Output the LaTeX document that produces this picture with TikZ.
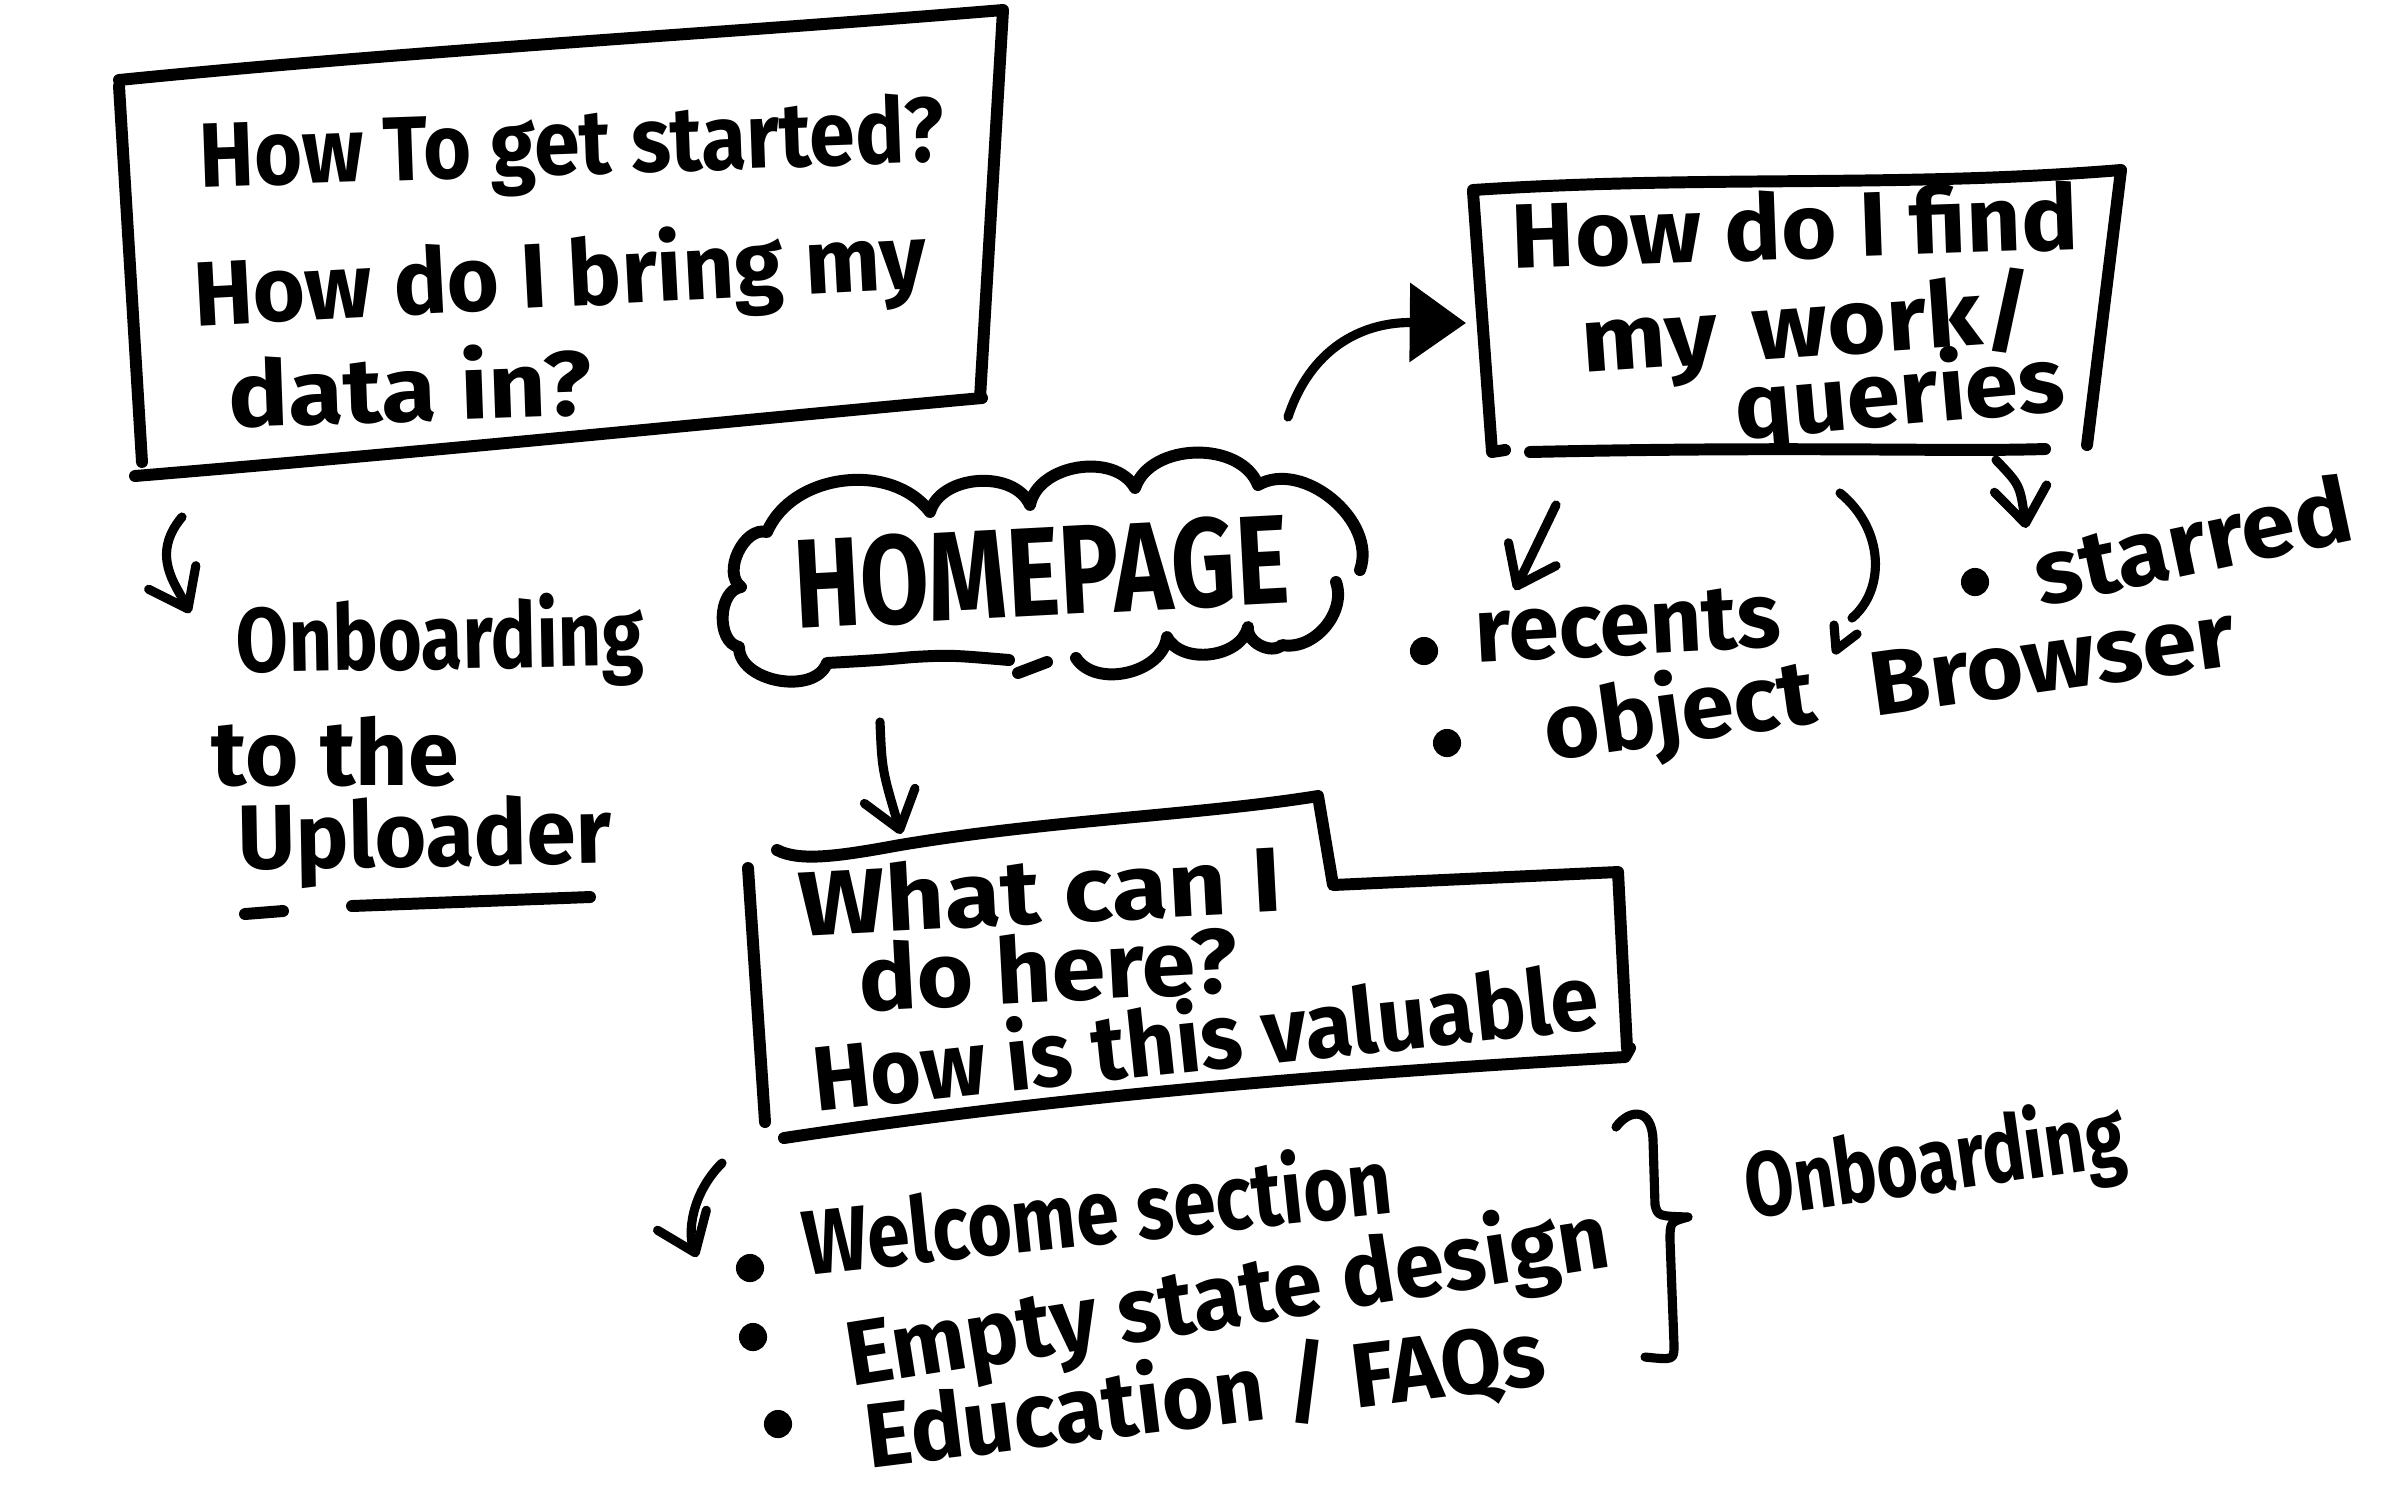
\documentclass[tikz,border=0pt]{standalone}
\usepackage{fontspec}
\setmainfont{Fira Sans}
\usetikzlibrary{arrows.meta}
\begin{document}
\begin{tikzpicture}[x=0.01cm,y=-0.01cm,
  pen/.style={line width=3.4pt, line cap=round, line join=round},
  thinpen/.style={line width=2.6pt, line cap=round, line join=round},
  barb/.style={-{Straight Barb[round,length=10pt,width=15pt]}},
  hand/.style={font=\bfseries\fontsize{26}{30}\selectfont, transform shape, inner sep=0pt},
  big/.style={font=\bfseries\fontsize{36}{40}\selectfont, transform shape, inner sep=0pt},
  dot/.style={circle, fill=black, minimum size=8pt, inner sep=0pt}]
\path[use as bounding box, fill=white] (0,0) rectangle (2401,1487);

% ---------- box: getting started ----------
\draw[pen] (119,80) .. controls (420,50) and (700,35) .. (1003,10) -- (980,398);
\draw[pen] (119,86) -- (142,462);
\draw[pen] (135,476) .. controls (450,450) and (760,418) .. (982,398);
\node[hand, rotate=2, xscale=0.9] (q1a) at (572,150) {How To get started?};
\node[hand, rotate=3, xscale=0.98] (q1b) at (560,280) {How do I bring my};
\node[hand, rotate=2, xscale=1.1] (q1c) at (410,385) {data in?};

% ---------- box: finding work ----------
\draw[pen] (1473,190) .. controls (1700,175) and (1900,188) .. (2121,170) -- (2087,445);
\draw[pen] (1473,192) -- (1492,452) -- (1505,450);
\draw[pen] (1530,452) .. controls (1800,446) and (1950,452) .. (2045,449);
\node[hand, rotate=2, xscale=1.04] (q2a) at (1795,225) {How do I find};
\node[hand, rotate=4, xscale=1.1] (q2b) at (1808,330) {my\hspace{0.35em}work/};
\node[hand, rotate=5, xscale=1.05] (q2c) at (1900,398) {queries};

% ---------- cloud ----------
\draw[pen] (1009,660) .. controls (950,655) .. (913,657) .. controls (880,660) .. (827,663)
  to[bend left=80] (739,647)
  to[bend left=80] (741,587)
  to[bend left=80] (767,532)
  to[bend left=60] (930,512)
  to[bend left=70] (1030,505)
  to[bend left=70] (1135,488)
  to[bend left=70] (1258,485)
  to[bend left=70] (1360,570);
\draw[pen] (1336,582) to[bend left=60] (1282,645)
  to[bend left=70] (1248,627)
  to[bend left=70] (1167,637)
  to[bend left=70] (1076,658);
\draw[pen] (1018,673) -- (1047,662);
\node[big, rotate=3, xscale=0.79] (home) at (1041,572) {HOMEPAGE};

% ---------- box: value ----------
\draw[pen] (777,850) .. controls (800,862) and (840,856) .. (900,845)
  .. controls (1050,820) and (1200,815) .. (1318,796) -- (1333,885) -- (1618,872) -- (1627,1048);
\draw[pen] (784,1138) .. controls (1100,1090) and (1400,1070) .. (1625,1057) -- (1630,1048);
\draw[pen] (748,868) -- (765,1122);
\node[hand, rotate=3, xscale=1.12] (q3a) at (1040,890) {What can I};
\node[hand, rotate=3, xscale=1.06] (q3b) at (1048,968) {do here?};
\node[hand, rotate=6, xscale=0.95] (q3c) at (1205,1034) {How is this valuable};

% ---------- connectors ----------
\coordinate (c1s) at (1288,417);
\coordinate (c1e) at (1466,323);
\draw[thinpen, -{Triangle[length=16pt,width=22pt]}] (c1s) .. controls (1310,350) and (1360,322) .. (c1e);

\coordinate (c2s) at (880,722);
\coordinate (c2e) at (901,834);
\draw[thinpen, barb] (c2s) .. controls (882,770) .. (c2e);

\coordinate (c3s) at (182,517);
\coordinate (c3e) at (190,613);
\draw[thinpen, barb] (c3s) .. controls (150,555) and (176,585) .. (c3e);

\coordinate (c4s) at (1556,505);
\coordinate (c4e) at (1515,590);
\draw[thinpen, barb] (c4s) -- (c4e);

\coordinate (c5s) at (1996,460);
\coordinate (c5e) at (2026,528);
\draw[thinpen, barb] (c5s) .. controls (2020,485) .. (c5e);

\coordinate (c6s) at (722,1163);
\coordinate (c6e) at (697,1257);
\draw[thinpen, barb] (c6s) .. controls (690,1195) and (688,1235) .. (c6e);

% ---------- left notes ----------
\node[hand, rotate=1, xscale=0.83] (ob1) at (440,642) {Onboarding};
\node[hand, xscale=1.0] (ob2) at (335,752) {to the};
\node[hand, rotate=1, xscale=0.97] (ob3) at (425,842) {Uploader};
\draw[pen] (245,914) -- (283,911);
\draw[pen] (352,906) -- (590,897);

% ---------- right notes ----------
\node[dot] (b1) at (1424,651) {};
\node[hand, rotate=3, xscale=0.99] (rec) at (1628,625) {recents};
\node[dot] (b2) at (1447,743) {};
\node[hand, rotate=8, xscale=1.04] (obj) at (1680,715) {object};
\node[hand, rotate=8, xscale=1.07] (brw) at (2052,660) {Browser};
\draw[thinpen] (1840,493) .. controls (1885,530) and (1885,590) .. (1852,618);
\draw[thinpen] (1834,625) -- (1836,650) -- (1857,634);
\node[dot] (b3) at (1975,582) {};
\node[hand, rotate=12, xscale=1.06] (star) at (2192,540) {starred};

% ---------- bottom list ----------
\node[dot] (b4) at (750,1268) {};
\node[dot] (b5) at (753,1337) {};
\node[dot] (b6) at (778,1424) {};
\node[hand, rotate=6, xscale=0.84] (l1) at (1097,1208) {Welcome section};
\node[hand, rotate=9, xscale=0.97] (l2) at (1228,1300) {Empty state design};
\node[hand, rotate=7, xscale=0.97] (l3) at (1205,1396) {Education / FAQs};
\draw[thinpen] (1616,1127) .. controls (1630,1108) and (1652,1108) .. (1653,1140)
  -- (1655,1205) .. controls (1658,1216) .. (1688,1217)
  .. controls (1670,1222) .. (1670,1240) -- (1674,1345) .. controls (1674,1360) .. (1645,1357);
\node[hand, rotate=8, xscale=0.78] (ob4) at (1935,1165) {Onboarding};
\end{tikzpicture}
\end{document}
